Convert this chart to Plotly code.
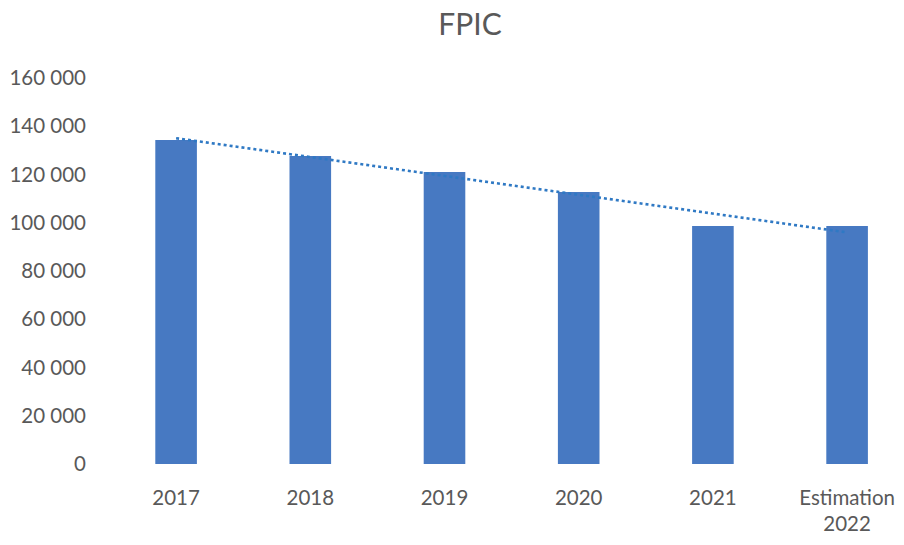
import numpy as np
import plotly.graph_objects as go

categories = ["2017", "2018", "2019", "2020", "2021", "Estimation<br>2022"]
values = [134300, 127700, 121000, 112700, 98700, 98700]
y_ticks = [0, 20000, 40000, 60000, 80000, 100000, 120000, 140000, 160000]
y_tick_labels = ["0", "20 000", "40 000", "60 000", "80 000",
                 "100 000", "120 000", "140 000", "160 000"]

# linear trend through the series (index-based, like a spreadsheet trendline)
idx = np.arange(len(values))
slope, intercept = np.polyfit(idx, values, 1)
trend = slope * idx + intercept

FONT = "Lato"
GREY = "#595959"

fig = go.Figure()
fig.add_trace(go.Bar(
    x=idx, y=values,
    marker=dict(color="#4779c2", line=dict(width=0)),
    showlegend=False,
))
fig.add_trace(go.Scatter(
    x=idx, y=trend, mode="lines",
    line=dict(color="#2f79c4", width=2.6, dash="dot"),
    showlegend=False,
))

fig.update_layout(
    width=904, height=545,
    margin=dict(l=109, r=0, t=78, b=81),
    paper_bgcolor="white", plot_bgcolor="white",
    bargap=0.69,
    title=dict(text="FPIC", x=0.52, xanchor="center", y=0.955, yanchor="middle",
               font=dict(family=FONT, size=30, color=GREY)),
    xaxis=dict(
        tickmode="array", tickvals=list(idx), ticktext=categories,
        range=[-0.5, 5.424], showgrid=False, zeroline=False, showline=False,
        ticks="", ticklabelstandoff=19,
        tickfont=dict(family=FONT, size=20.5, color=GREY),
    ),
    yaxis=dict(
        range=[0, 160000], tickmode="array", tickvals=y_ticks, ticktext=y_tick_labels,
        showgrid=False, zeroline=False, showline=False, ticks="",
        ticklabelstandoff=22,
        tickfont=dict(family=FONT, size=20.5, color=GREY),
    ),
)

fig.write_html("out.html")
